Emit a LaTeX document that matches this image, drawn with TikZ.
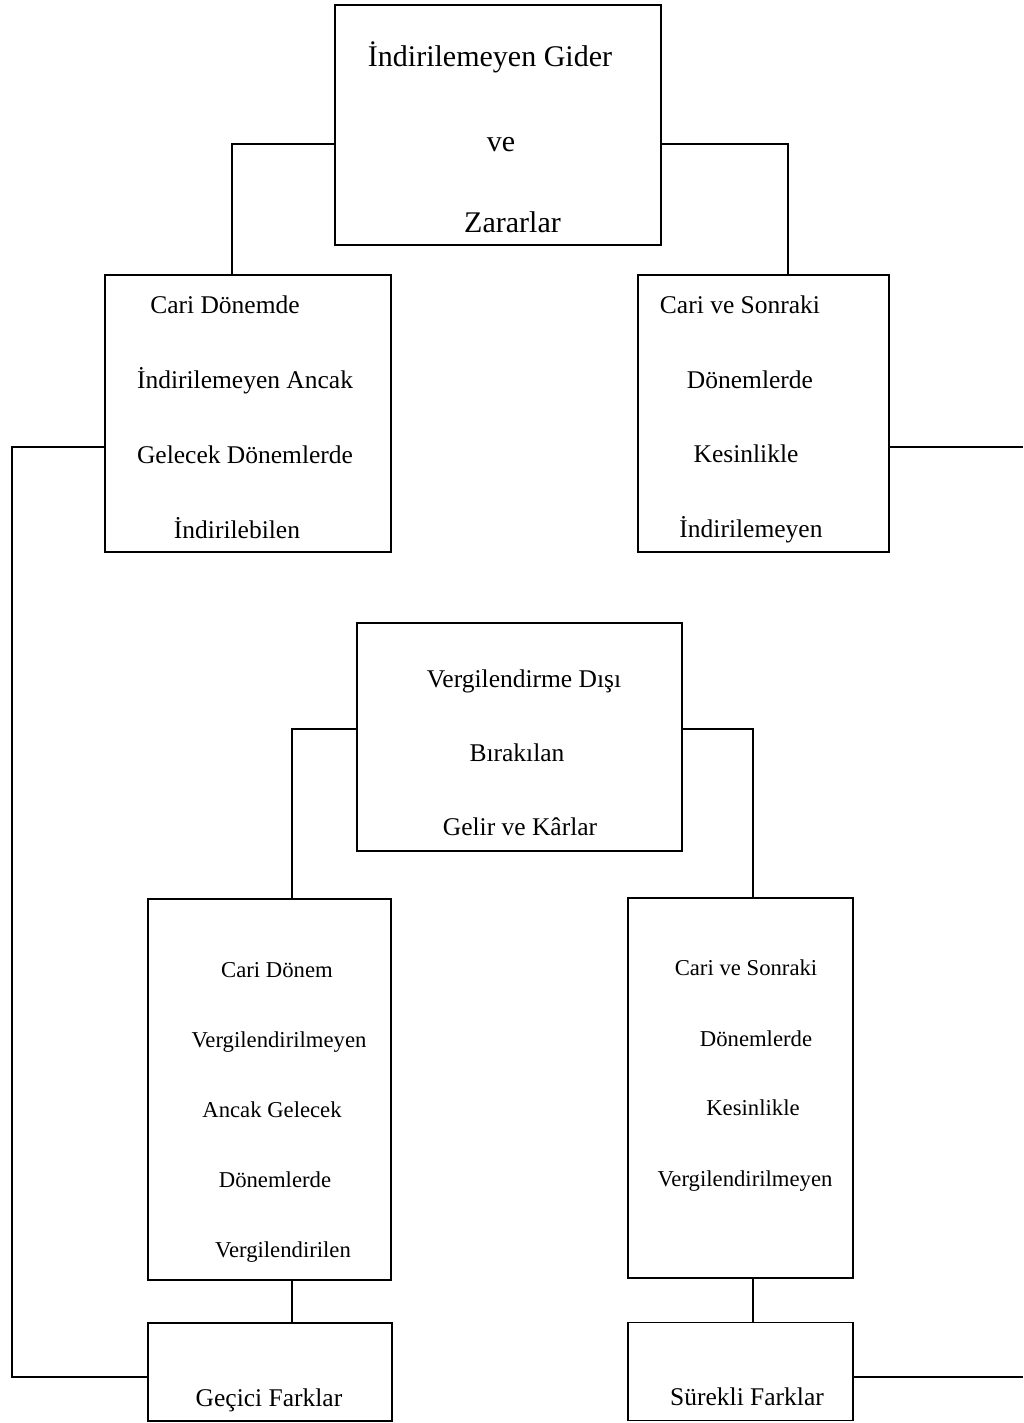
\documentclass[tikz,border=0pt]{standalone}
\usepackage{fontspec}
\setmainfont{Liberation Serif}
\begin{document}
\begin{tikzpicture}[x=1pt,y=-1pt,
  box/.style={draw=black, line width=1.3pt, rectangle, inner sep=0pt},
  conn/.style={draw=black, line width=1.3pt},
  big/.style={anchor=base, inner sep=0pt, font=\fontsize{30}{36}\selectfont},
  mid/.style={anchor=base, inner sep=0pt, font=\fontsize{25.5}{30}\selectfont},
  small/.style={anchor=base, inner sep=0pt, font=\fontsize{22.7}{27}\selectfont}]
\useasboundingbox (0,0) rectangle (1023,1423);
% boxes
\node[box, minimum width=326pt, minimum height=240pt] (top) at (498,125) {};
\node[box, minimum width=286pt, minimum height=277pt] (lb) at (248,413.5) {};
\node[box, minimum width=251pt, minimum height=277pt] (rb) at (763.5,413.5) {};
\node[box, minimum width=325pt, minimum height=228pt] (mb) at (519.5,737) {};
\node[box, minimum width=243pt, minimum height=381pt] (ll) at (269.5,1089.5) {};
\node[box, minimum width=225pt, minimum height=380pt] (lr) at (740.5,1088) {};
\node[box, minimum width=244pt, minimum height=98pt] (gec) at (270,1372) {};
\node[box, minimum width=225pt, minimum height=98pt] (sur) at (740.5,1371.5) {};
% junction coordinates
\coordinate (j1) at (232,144);
\coordinate (j2) at (788,144);
\coordinate (j3) at (12,447);
\coordinate (j4) at (12,1377);
\coordinate (e1) at (1023,447);
\coordinate (e2) at (1023,1377);
\coordinate (j5) at (292,729);
\coordinate (j6) at (753,729);
% connectors
\draw[conn] (top.west |- j1) -- (j1) -- (lb.north -| j1);
\draw[conn] (top.east |- j2) -- (j2) -- (rb.north -| j2);
\draw[conn] (lb.west |- j3) -- (j3) -- (j4) -- (gec.west |- j4);
\draw[conn] (rb.east |- e1) -- (e1);
\draw[conn] (mb.west |- j5) -- (j5) -- (ll.north -| j5);
\draw[conn] (mb.east |- j6) -- (j6) -- (lr.north -| j6);
\draw[conn] (ll.south -| j5) -- (gec.north -| j5);
\draw[conn] (lr.south -| j6) -- (sur.north -| j6);
\draw[conn] (sur.east |- e2) -- (e2);
% texts
\node[big] (t1) at (490,67) {İndirilemeyen Gider};
\node[big] (t2) at (501,152) {ve};
\node[big] (t3) at (512.5,233) {Zararlar};
\node[mid] (l1) at (225,313) {Cari Dönemde};
\node[mid] (l2) at (245,388) {İndirilemeyen Ancak};
\node[mid] (l3) at (245,463) {Gelecek Dönemlerde};
\node[mid] (l4) at (237,538) {İndirilebilen};
\node[mid] (r1) at (740,313) {Cari ve Sonraki};
\node[mid] (r2) at (750,388) {Dönemlerde};
\node[mid] (r3) at (746,462) {Kesinlikle};
\node[mid] (r4) at (751,537) {İndirilemeyen};
\node[mid] (m1) at (524,687) {Vergilendirme Dışı};
\node[mid] (m2) at (517,761) {Bırakılan};
\node[mid] (m3) at (520,835) {Gelir ve Kârlar};
\node[small] (a1) at (277,977) {Cari Dönem};
\node[small] (a2) at (279,1047) {Vergilendirilmeyen};
\node[small] (a3) at (272,1117) {Ancak Gelecek};
\node[small] (a4) at (275,1187) {Dönemlerde};
\node[small] (a5) at (283,1257) {Vergilendirilen};
\node[small] (b1) at (746,975) {Cari ve Sonraki};
\node[small] (b2) at (756,1046) {Dönemlerde};
\node[small] (b3) at (753,1115) {Kesinlikle};
\node[small] (b4) at (745,1186) {Vergilendirilmeyen};
\node[mid] (g1) at (269,1406) {Geçici Farklar};
\node[mid] (s1) at (747,1405) {Sürekli Farklar};
\end{tikzpicture}
\end{document}
